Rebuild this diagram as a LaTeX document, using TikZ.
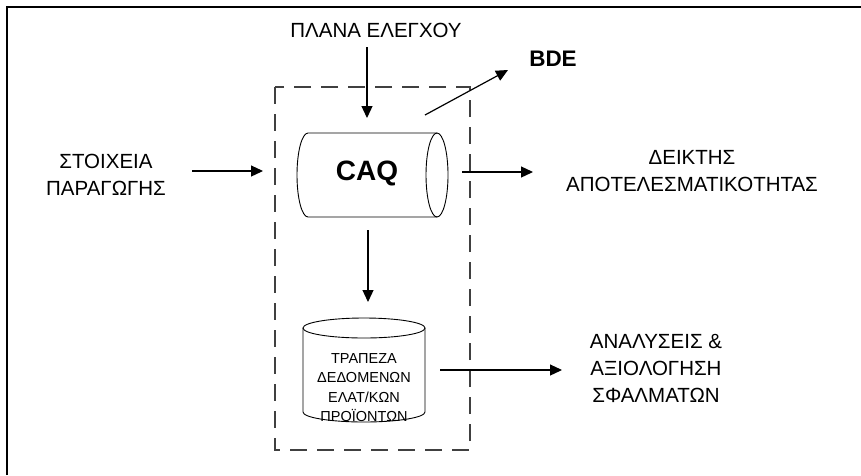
\documentclass[tikz,border=0pt]{standalone}
\usepackage{fontspec}
\setmainfont{Liberation Sans}
\usetikzlibrary{arrows.meta}
\begin{document}
\begin{tikzpicture}[x=1pt,y=-1pt,
  lbl/.style={inner sep=0pt,align=center,font=\fontsize{20.5}{27}\selectfont},
  arr/.style={line width=1.2pt,-{Triangle[length=12pt,width=11pt]}},
  outl/.style={line width=0.9pt}]
\useasboundingbox (0,0) rectangle (861,475);
% outer frame (top and left only)
\draw[line width=2pt] (7,475) -- (7,7) -- (861,7);
% dashed box
\draw[line width=1.3pt,dash pattern=on 17pt off 10pt,black!75] (275,87) rectangle (470,450);
% labels
\node[lbl] (plan) at (376,30) {ΠΛΑΝΑ ΕΛΕΓΧΟΥ};
\node[lbl,font=\fontsize{22.5}{25}\selectfont\bfseries] (bde) at (553,59) {BDE};
\node[lbl] (stoix) at (106,174.5) {ΣΤΟΙΧΕΙΑ\\ΠΑΡΑΓΩΓΗΣ};
\node[lbl] (deikt) at (692,171) {ΔΕΙΚΤΗΣ\\ΑΠΟΤΕΛΕΣΜΑΤΙΚΟΤΗΤΑΣ};
\node[lbl] (anal) at (656,368.5) {ΑΝΑΛΥΣΕΙΣ \&\\ΑΞΙΟΛΟΓΗΣΗ\\ΣΦΑΛΜΑΤΩΝ};
% CAQ cylinder
\draw[outl] (308,133) -- (437,133) (308,217) -- (437,217)
  (308,133) arc[start angle=90,end angle=270,x radius=11pt,y radius=42pt];
\draw[outl] (437,175) ellipse[x radius=11pt,y radius=42pt];
\node[inner sep=0pt,font=\fontsize{28}{30}\selectfont\bfseries] (caq) at (367,173) {CAQ};
% database cylinder
\draw[outl] (303,328) -- (303,412) arc[start angle=180,end angle=360,x radius=61pt,y radius=10pt] -- (425,328);
\draw[outl] (364,328) ellipse[x radius=61pt,y radius=10pt];
\node[inner sep=0pt,align=center,font=\fontsize{14.5}{19.6}\selectfont] (db) at (364,387.5) {ΤΡΑΠΕΖΑ\\ΔΕΔΟΜΕΝΩΝ\\ΕΛΑΤ/ΚΩΝ\\ΠΡΟΪΟΝΤΩΝ};
% connector end points
\coordinate (p1) at (367,47);  \coordinate (p2) at (367,118);
\coordinate (b1) at (425,115); \coordinate (b2) at (508,70);
\coordinate (s1) at (192,171); \coordinate (s2) at (263,171);
\coordinate (d1) at (462,172); \coordinate (d2) at (533,172);
\coordinate (c1) at (368,230); \coordinate (c2) at (368,302);
\coordinate (a1) at (440,370); \coordinate (a2) at (562,370);
\draw[arr] (p1) -- (p2);
\draw[arr] (b1) -- (b2);
\draw[arr] (s1) -- (s2);
\draw[arr] (d1) -- (d2);
\draw[arr] (c1) -- (c2);
\draw[arr] (a1) -- (a2);
\end{tikzpicture}
\end{document}
